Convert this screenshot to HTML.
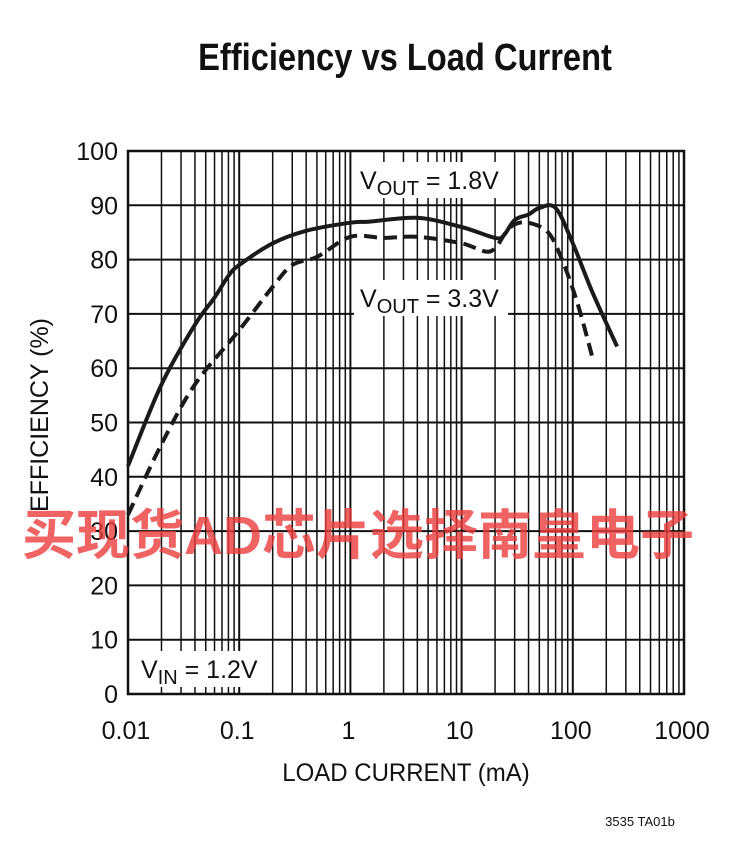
<!DOCTYPE html>
<html><head><meta charset="utf-8"><style>
body{margin:0;background:#fff;width:752px;height:850px;overflow:hidden}
svg text{font-family:"Liberation Sans",sans-serif;fill:#111}
</style></head><body>
<svg id="chart" width="752" height="850" viewBox="0 0 752 850" xmlns="http://www.w3.org/2000/svg">
<text x="405" y="70" font-size="38" font-weight="bold" text-anchor="middle" transform="translate(405 0) scale(0.86 1) translate(-405 0)">Efficiency vs Load Current</text>
<g id="grid"></g>
<g id="series"></g>
<g id="labels"></g>
<text x="406" y="781" font-size="25" text-anchor="middle" transform="translate(406 0) scale(0.96 1) translate(-406 0)">LOAD CURRENT (mA)</text>
<text transform="translate(48 415) rotate(-90)" font-size="25" text-anchor="middle">EFFICIENCY (%)</text>
<text x="640" y="826" font-size="13" text-anchor="middle">3535 TA01b</text>
<text x="358" y="554" font-size="54" font-weight="bold" text-anchor="middle" style="fill:rgba(235,60,60,0.8);font-family:'Liberation Sans','Noto Sans CJK SC',sans-serif">买现货AD芯片选择南皇电子</text>
</svg>
<script>
const xTicks=[0.01,0.1,1,10,100,1000];
const xTickLabels=["0.01","0.1","1","10","100","1000"];
const yTicks=[0,10,20,30,40,50,60,70,80,90,100];
const x18=[0.01,0.02,0.04,0.06,0.08,0.1,0.2,0.4,1,1.5,4,10,20,24,30,40,50,70,100,150,250];
const y18=[42,57,68,73,77,79,83,85.3,86.8,87,87.7,86,84,84.5,87.3,88.3,89.5,89.5,83,74,64];
const x33=[0.01,0.02,0.04,0.1,0.2,0.3,0.5,1,2,4,10,18,25,30,40,60,80,110,150];
const y33=[33,46,57,67,75,79,80.5,84.2,84,84.2,83,81.5,85,86.5,86.8,85,80,72,62];
const L=128,R=684,T=151,B=694;
const sx=v=>L+(Math.log10(v)+2)/5*(R-L);
const sy=v=>B-v/100*(B-T);
const NS="http://www.w3.org/2000/svg";
function mk(tag,attrs,parent){const e=document.createElementNS(NS,tag);for(const k in attrs)e.setAttribute(k,attrs[k]);parent.appendChild(e);return e;}
const grid=document.getElementById('grid');
for(let d=-2;d<3;d++){for(let m=1;m<10;m++){const x=sx(m*Math.pow(10,d));
const ln=mk('line',{x1:x,x2:x,y1:T,y2:B,stroke:'#111','stroke-width':m==1?2:1.5},grid);

}}
yTicks.forEach(v=>{const ln=mk('line',{x1:L,x2:R,y1:sy(v),y2:sy(v),stroke:'#111','stroke-width':2},grid);


const t=mk('text',{x:L-10,y:sy(v)+9,'font-size':25,'text-anchor':'end'},grid);t.textContent=v;

});
const bx=mk('rect',{x:L,y:T,width:R-L,height:B-T,fill:'none',stroke:'#111','stroke-width':2.5},grid);


xTicks.forEach((v,i)=>{const t=mk('text',{x:sx(v)-2,y:739,'font-size':25,'text-anchor':'middle'},grid);t.textContent=xTickLabels[i];

});
const lab=document.getElementById('labels');
function boxLabel(x,y,w,sub,val,name){const r=mk('rect',{x:x,y:y,width:w,height:36,fill:'#fff'},lab);


const t=mk('text',{x:x+6,y:y+27,'font-size':25},lab);


t.innerHTML='V<tspan font-size="20" dy="6">'+sub+'</tspan><tspan dy="-6"> = '+val+'</tspan>';}
boxLabel(354,162,154,'OUT','1.8V','vout-1.8-label');
boxLabel(354,280,154,'OUT','3.3V','vout-3.3-label');
boxLabel(135,651,132,'IN','1.2V','vin-label');
const ser=document.getElementById('series');
function path(xs,ys){const p=xs.map((x,i)=>[sx(x),sy(ys[i])]);let d='M'+p[0][0].toFixed(1)+' '+p[0][1].toFixed(1);
for(let i=0;i<p.length-1;i++){const p0=p[Math.max(0,i-1)],p1=p[i],p2=p[i+1],p3=p[Math.min(p.length-1,i+2)];
const c1=[p1[0]+(p2[0]-p0[0])/6,p1[1]+(p2[1]-p0[1])/6],c2=[p2[0]-(p3[0]-p1[0])/6,p2[1]-(p3[1]-p1[1])/6];
d+=' C'+c1.map(v=>v.toFixed(1)).join(' ')+' '+c2.map(v=>v.toFixed(1)).join(' ')+' '+p2[0].toFixed(1)+' '+p2[1].toFixed(1);}
return d;}
const p1=mk('path',{d:path(x18,y18),fill:'none',stroke:'#1a1a1a','stroke-width':4,'stroke-linejoin':'round'},ser);


const p2=mk('path',{d:path(x33,y33),fill:'none',stroke:'#1a1a1a','stroke-width':4,'stroke-dasharray':'13 7'},ser);


</script>
</body></html>
